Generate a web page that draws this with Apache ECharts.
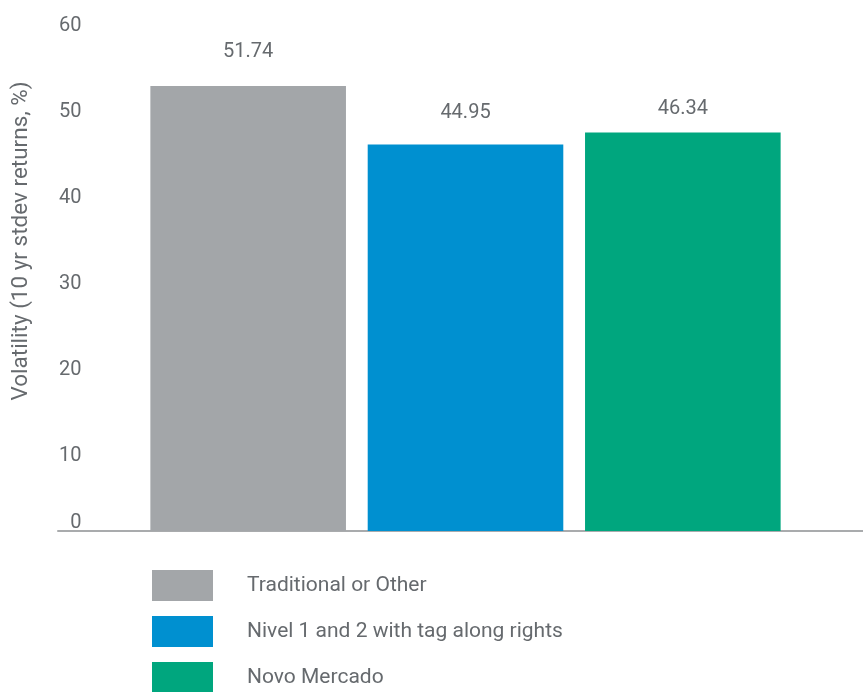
<!DOCTYPE html>
<html><head><meta charset="utf-8">
<script src="https://cdn.jsdelivr.net/npm/echarts@6/dist/echarts.min.js"></script>
<style>html,body{margin:0;padding:0;background:#fff}#c{width:863px;height:692px}</style>
</head><body><div id="c"></div>
<script>
const categories = ['Traditional or Other', 'Nivel 1 and 2 with tag along rights', 'Novo Mercado'];
const values = [51.74, 44.95, 46.34];
const colors = ['#a3a6a9', '#0090d0', '#00a67e'];
const yTicks = [0, 10, 20, 30, 40, 50, 60];
const yTitle = 'Volatility (10 yr stdev returns, %)';

const FONT = 'Roboto';
const TXT = '#666a6e';
const labelGaps = [24, 21, 13];
const chart = echarts.init(document.getElementById('c'), null, {renderer: 'canvas'});
const series = categories.map((name, i) => ({
  name: name,
  type: 'bar',
  stack: 'all',
  xAxisIndex: 0, yAxisIndex: 0,
  barWidth: '90%',
  itemStyle: {color: colors[i]},
  label: {show: true, position: 'top', distance: labelGaps[i], color: TXT, fontFamily: FONT, fontSize: 20,
          formatter: p => values[i].toFixed(2)},
  data: categories.map((c, j) => j === i ? values[i] : '-')
}));
chart.setOption({
  animation: false,
  grid: [
    {left: 139.5, right: 71.5, top: 15, bottom: 161},
    {left: 58, right: 0, top: 15, bottom: 161}
  ],
  xAxis: [
    {type: 'category', data: categories, gridIndex: 0, axisLine: {show: false}, axisTick: {show: false}, axisLabel: {show: false}},
    {type: 'value', gridIndex: 1, min: 0, max: 1, axisLine: {show: true, lineStyle: {color: '#a9abad', width: 2}},
     axisTick: {show: false}, axisLabel: {show: false}, splitLine: {show: false}}
  ],
  yAxis: [
    {type: 'value', gridIndex: 0, min: yTicks[0], max: yTicks[yTicks.length - 1], interval: 10,
     axisLine: {show: false}, axisTick: {show: false}, splitLine: {show: false},
     axisLabel: {color: TXT, fontFamily: FONT, fontSize: 20, margin: 58, padding: [22, 0, 0, 0],
       formatter: v => v === 0 ? '{z|0}' : String(v),
       rich: {z: {color: TXT, fontFamily: FONT, fontSize: 20, padding: [0, 0, 38, 0]}}},
     name: yTitle, nameLocation: 'middle', nameGap: 107, nameRotate: 90,
     nameTextStyle: {color: TXT, fontFamily: FONT, fontSize: 22.5, padding: [0, 0, 0, 64]}},
    {type: 'value', gridIndex: 1, show: false}
  ],
  legend: {
    orient: 'vertical', left: 152, top: 570, height: 140, padding: 0,
    itemWidth: 61, itemHeight: 31, itemGap: 15,
    icon: 'rect', data: categories,
    textStyle: {color: TXT, fontFamily: FONT, fontSize: 21, padding: [0, 0, 0, 29]}
  },
  series: series
});
</script></body></html>
